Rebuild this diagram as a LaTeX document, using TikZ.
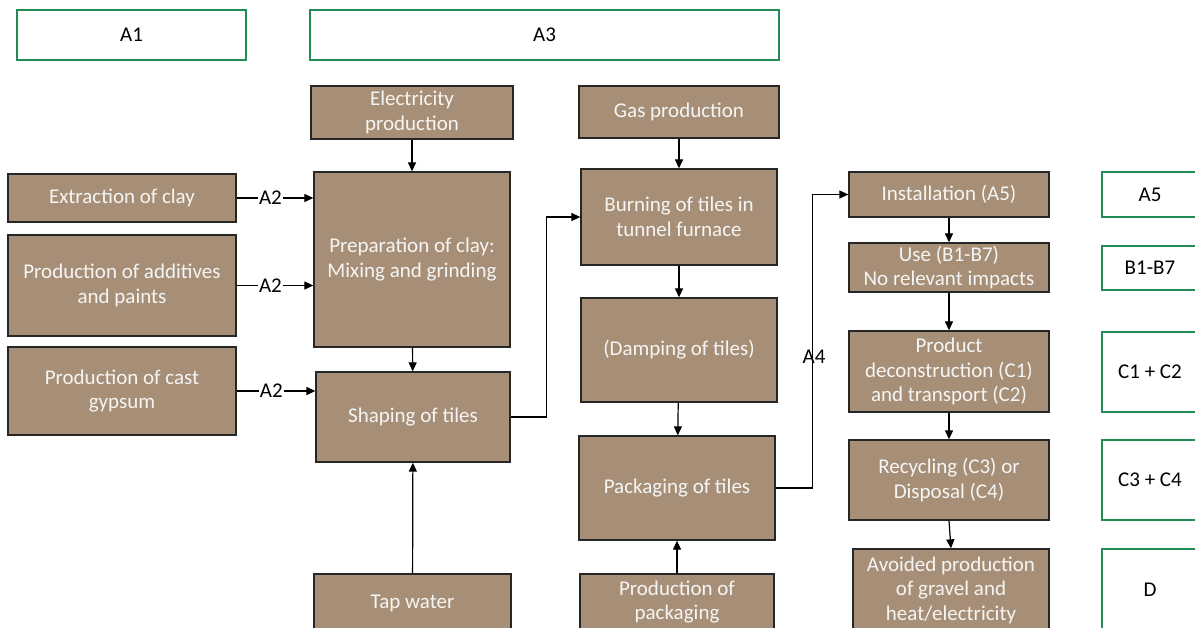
\documentclass[tikz,border=0pt]{standalone}
\usepackage{fontspec}
\setmainfont{Carlito}
\usetikzlibrary{arrows.meta}
\definecolor{brownc}{RGB}{166,143,118}
\definecolor{greenc}{RGB}{35,140,85}
\definecolor{ltext}{RGB}{245,245,245}
\newcommand{\fs}{\fontsize{21}{24.5}\selectfont}
\tikzset{
  pbox/.style={draw=black!85, line width=1.3pt, fill=brownc, text=ltext, align=center, font=\fs, inner sep=0pt},
  gbox/.style={draw=greenc, line width=1.5pt, fill=white, text=black, align=center, font=\fs, inner sep=0pt},
  arr/.style={draw=black, line width=1.2pt, -{Triangle[length=9pt,width=8pt]}},
  lbl/.style={font=\fs, text=black, fill=white, inner sep=1pt},
}
\newcommand{\bx}[7]{\node[#1, minimum width=#5pt, minimum height=#6pt] (#2) at (#3,#4) {#7};}
\begin{document}
\begin{tikzpicture}[x=1pt,y=-1pt]
\useasboundingbox (0,0) rectangle (1195,627);
\clip (0,0) rectangle (1195,627);
\fill[white] (0,0) rectangle (1195,627);
% top green boxes
\bx{gbox}{A1}{131.5}{35}{229}{50}{A1}
\bx{gbox}{A3}{544.5}{35}{469}{50}{A3}
% brown boxes
\bx{pbox}{elec}{412}{112.5}{202}{53}{Electricity\\production}
\bx{pbox}{gas}{679}{112}{200}{52}{Gas production}
\bx{pbox}{ext}{122}{198}{228}{48}{Extraction of clay}
\bx{pbox}{add}{122}{285.5}{228}{101}{Production of additives\\and paints}
\bx{pbox}{gyp}{122}{391}{228}{88}{Production of cast\\gypsum}
\bx{pbox}{prep}{412}{259.5}{196}{175}{Preparation of clay:\\Mixing and grinding}
\bx{pbox}{shape}{413}{417}{194}{90}{Shaping of tiles}
\bx{pbox}{tap}{412.5}{603}{197}{58}{Tap water}
\bx{pbox}{burn}{679}{217}{196}{96}{Burning of tiles in\\tunnel furnace}
\bx{pbox}{damp}{679}{350}{196}{104}{(Damping of tiles)}
\bx{pbox}{pack}{677}{488}{196}{104}{Packaging of tiles}
\bx{pbox}{ppack}{677}{602}{194}{56}{Production of\\packaging}
\bx{pbox}{inst}{949}{194.5}{200}{45}{Installation (A5)}
\bx{pbox}{use}{949}{267.5}{200}{49}{Use (B1-B7)\\No relevant impacts}
\bx{pbox}{deco}{949}{371.5}{200}{81}{Product\\deconstruction (C1)\\and transport (C2)}
\bx{pbox}{rec}{949}{480}{200}{80}{Recycling (C3) or\\Disposal (C4)}
\bx{pbox}{avoid}{951}{590}{196}{82}{Avoided production\\of gravel and\\heat/electricity}
% right green boxes
\bx{gbox}{gA5}{1150}{194.5}{96}{45}{A5}
\bx{gbox}{gB}{1150}{268}{96}{44}{B1-B7}
\bx{gbox}{gC12}{1150}{372}{96}{80}{C1 + C2}
\bx{gbox}{gC34}{1150}{480}{96}{80}{C3 + C4}
\bx{gbox}{gD}{1150}{590}{96}{82}{D}
% connectors
\draw[arr] (elec) -- (prep);
\draw[arr] (gas) -- (burn);
\draw[arr] (ext.east) -- node[lbl, pos=0.44]{A2} (ext.east -| prep.west);
\draw[arr] (add.east) -- node[lbl, pos=0.44]{A2} (add.east -| prep.west);
\draw[arr] (gyp.east) -- node[lbl, pos=0.44]{A2} (gyp.east -| shape.west);
\draw[arr] (prep) -- (shape);
\draw[arr] (tap) -- (shape);
\draw[arr] (shape.east) -- ++(36,0) |- (burn.west);
\draw[arr] (burn) -- (damp);
\draw[arr] (damp) -- (pack);
\draw[arr] (ppack) -- (pack);
\draw[arr] (pack.east) -- ++(37,0) coordinate (a4c) |- (inst.west);
\node[font=\fs, text=black, inner sep=0pt] (a4) at (814,357) {A4};
\draw[arr] (inst) -- (use);
\draw[arr] (use) -- (deco);
\draw[arr] (deco) -- (rec);
\draw[arr] (rec.south) -- (avoid.north);
\end{tikzpicture}
\end{document}
